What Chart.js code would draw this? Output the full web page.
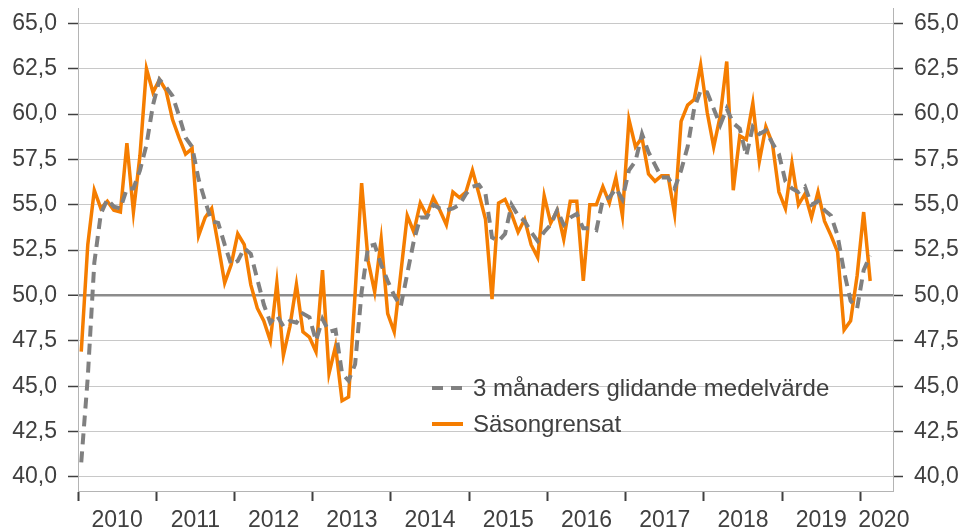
<!DOCTYPE html>
<html><head><meta charset="utf-8">
<script src="https://cdn.jsdelivr.net/npm/chart.js@4.4.1/dist/chart.umd.min.js"></script>
<style>
html,body{margin:0;padding:0;background:#fff;}
#wrap{position:relative;width:963px;height:529px;overflow:hidden;}
#legend{position:absolute;left:432px;top:370px;font-family:"Liberation Sans",Arial,sans-serif;font-size:24px;color:#404040;}
.row{position:absolute;left:0;white-space:nowrap;height:30px;display:flex;align-items:center;}
.row svg{margin-right:5px;}
</style></head><body>
<div id="wrap"><canvas id="c" width="963" height="529"></canvas>
<div id="legend">
  <div class="row" style="top:3px"><svg width="36" height="10"><line x1="0" y1="5" x2="35" y2="5" stroke="#808080" stroke-width="4" stroke-dasharray="11 8"/></svg><span>3 månaders glidande medelvärde</span></div>
  <div class="row" style="top:39px"><svg width="36" height="10"><line x1="0" y1="5" x2="31" y2="5" stroke="#f57d00" stroke-width="4"/></svg><span>Säsongrensat</span></div>
</div>
</div>
<script>
// ---- data (monthly, Jan 2010 – Feb 2020) ----
const years = ['2010','2011','2012','2013','2014','2015','2016','2017','2018','2019','2020'];
const yTicks = [40,42.5,45,47.5,50,52.5,55,57.5,60,62.5,65];
const monthsOnAxis = 125; // Jan 2010 – May 2020
const saesongrensat = [
 46.9,52.8,55.8,54.8,55.2,54.7,54.6,58.4,54.6,57.7,62.5,61.2,
 61.9,61.3,59.7,58.7,57.8,58.1,53.3,54.3,54.8,52.8,50.7,51.7,
 53.4,52.8,50.6,49.3,48.6,47.5,50.7,46.7,48.3,50.6,48.0,47.7,
 46.9,51.4,45.7,47.2,44.2,44.4,50.1,56.2,51.9,50.2,53.1,49.0,
 48.0,51.2,54.4,53.5,55.1,54.4,55.4,54.7,53.9,55.7,55.4,55.7,
 56.9,55.6,54.2,49.8,55.1,55.3,54.5,53.5,54.2,52.8,52.1,55.5,
 54.0,54.7,53.1,55.2,55.2,50.8,55.0,55.0,56.0,55.1,56.5,54.4,
 59.7,58.2,58.7,56.7,56.3,56.6,56.6,54.5,59.6,60.5,60.8,62.7,
 60.1,58.2,59.9,62.9,55.8,58.8,58.6,60.6,57.4,59.3,58.4,55.7,
 54.8,57.3,55.0,55.6,54.3,55.7,54.1,53.3,52.4,48.1,48.6,51.1,
 54.6,50.8
];
const glidande = [
 40.8,45.5,51.8,54.5,55.3,54.9,54.8,55.9,55.9,56.9,58.3,60.5,
 61.9,61.5,61.0,59.9,58.7,58.2,56.4,55.2,54.1,54.0,52.8,51.7,
 51.9,52.6,52.3,50.9,49.5,48.5,48.9,48.3,48.6,48.5,49.0,48.8,
 47.5,48.7,48.0,48.1,45.7,45.3,46.2,50.2,52.7,52.8,51.7,50.8,
 50.0,49.4,51.2,53.0,54.3,54.3,55.0,54.8,54.7,54.8,55.0,55.6,
 56.0,56.1,55.6,53.2,53.0,53.4,55.0,54.4,54.1,53.5,53.0,53.5,
 53.9,54.7,53.9,54.3,54.5,53.7,53.7,53.6,55.3,55.4,55.9,55.3,
 56.9,57.4,58.9,57.9,57.2,56.5,56.5,55.9,56.9,58.2,60.3,61.3,
 61.2,60.3,59.4,60.3,59.5,59.2,57.7,59.3,58.9,59.1,58.4,57.8,
 56.3,55.9,55.7,56.0,55.0,55.2,54.7,54.4,53.3,51.3,49.7,49.3,
 51.4,52.2
];

const toPts = arr => arr.map((v, i) => ({x: i + 0.5, y: v}));
const boundaries = years.slice(0, 11).map((_, k) => k * 12);
const labelPos = years.map((_, k) => k < 10 ? k * 12 + 6 : 123.6);
const FONT = {family: '"Liberation Sans", Arial, sans-serif', size: 23};
const TXT = '#404040';
const fmt = v => v.toFixed(1).replace('.', ',');
const noPad = s => { s.paddingTop = 0; s.paddingBottom = 0; s.paddingLeft = 0; s.paddingRight = 0; };

const yCommon = {
  type: 'linear', min: 39.22, max: 65.85,
  afterBuildTicks: s => { s.ticks = yTicks.map(v => ({value: v})); },
  ticks: {font: FONT, color: TXT, padding: 11, callback: v => fmt(v)},
  border: {display: true, color: '#b4b4b4', width: 1}
};

new Chart(document.getElementById('c'), {
  type: 'line',
  data: {
    datasets: [
      {label: '3 månaders glidande medelvärde', data: toPts(glidande), borderColor: '#808080',
       borderWidth: 4, borderDash: [11, 7], pointRadius: 0, tension: 0, fill: false, yAxisID: 'y'},
      {label: 'Säsongrensat', data: toPts(saesongrensat), borderColor: '#f57d00',
       borderWidth: 3.5, pointRadius: 0, tension: 0, fill: false, yAxisID: 'y'}
    ]
  },
  options: {
    responsive: false, devicePixelRatio: 1, animation: false,
    layout: {padding: {top: 8, left: 0, right: 0, bottom: 0}},
    plugins: {legend: {display: false}, tooltip: {enabled: false}},
    scales: {
      x: {
        type: 'linear', min: 0, max: monthsOnAxis, position: 'bottom',
        afterBuildTicks: s => {
          const t = boundaries.map(v => ({value: v})).concat(labelPos.map(v => ({value: v})));
          t.sort((a, b) => a.value - b.value);
          s.ticks = t;
        },
        afterFit: s => { s.height = 38; noPad(s); },
        ticks: {font: FONT, color: TXT, autoSkip: false, maxRotation: 0, padding: 6,
          callback: v => { const k = labelPos.indexOf(v); return k >= 0 ? years[k] : ''; }},
        grid: {drawOnChartArea: false, tickLength: 10, tickWidth: 2,
          tickColor: ctx => (ctx.tick && boundaries.includes(ctx.tick.value)) ? TXT : 'rgba(0,0,0,0)'},
        border: {display: true, color: '#b4b4b4', width: 1}
      },
      y: Object.assign({}, yCommon, {
        position: 'left',
        afterFit: s => { s.width = 78; noPad(s); },
        grid: {
          color: ctx => (ctx.tick && ctx.tick.value === 50) ? '#8c8c8c' : '#c8c8c8',
          lineWidth: ctx => (ctx.tick && ctx.tick.value === 50) ? 2.5 : 1,
          tickLength: 10, tickColor: TXT, tickWidth: 1.5
        }
      }),
      y2: Object.assign({}, yCommon, {
        position: 'right',
        afterFit: s => { s.width = 70; noPad(s); },
        grid: {drawOnChartArea: false, tickLength: 10, tickColor: TXT, tickWidth: 1.5}
      })
    }
  }
});
</script>
</body></html>
